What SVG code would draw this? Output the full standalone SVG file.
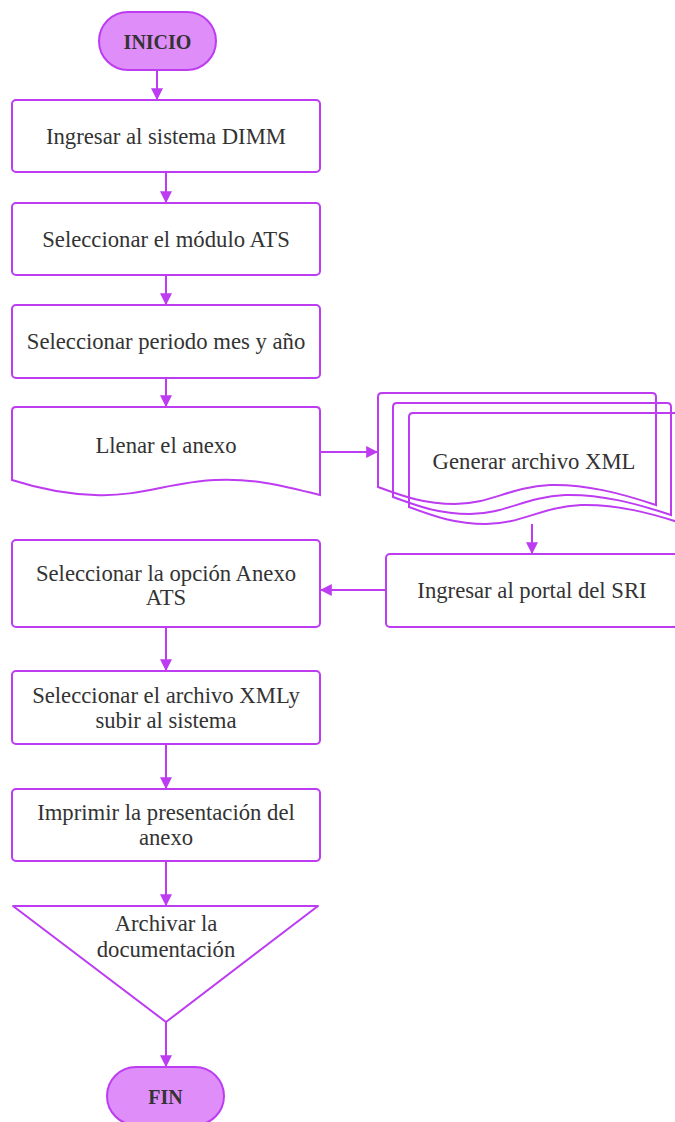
<svg xmlns="http://www.w3.org/2000/svg" width="675" height="1122" viewBox="0 0 675 1122">
  <defs>
    <style>
      .shape { fill: #ffffff; stroke: #bd3cf2; stroke-width: 2; }
      .outline { fill: none; stroke: #bd3cf2; stroke-width: 2; }
      .term { fill: #df8df9; stroke: #bd3cf2; stroke-width: 2; }
      .lbl { font-family: "Liberation Serif", "DejaVu Serif", serif; font-size: 22.7px; fill: #333333; text-anchor: middle; dominant-baseline: central; }
      .bold { font-weight: bold; font-size: 20px; }
      .edge { fill: none; stroke: #bd3cf2; stroke-width: 2; }
    </style>
    <marker id="arrow" viewBox="0 0 10 10" refX="9" refY="5" markerWidth="6" markerHeight="6" markerUnits="strokeWidth" orient="auto">
      <path d="M0,0 L10,5 L0,10 z" fill="#bd3cf2"/>
    </marker>
  </defs>

  <!-- connectors -->
  <g id="connectors">
    <path class="edge" d="M157,70 V99" marker-end="url(#arrow)"/>
    <path class="edge" d="M166,172 V202" marker-end="url(#arrow)"/>
    <path class="edge" d="M166,275 V304" marker-end="url(#arrow)"/>
    <path class="edge" d="M166,378 V406" marker-end="url(#arrow)"/>
    <path class="edge" d="M320,452 H377" marker-end="url(#arrow)"/>
    <path class="edge" d="M532,524 V553" marker-end="url(#arrow)"/>
    <path class="edge" d="M386,590 H321" marker-end="url(#arrow)"/>
    <path class="edge" d="M166,627 V670" marker-end="url(#arrow)"/>
    <path class="edge" d="M166,744 V788" marker-end="url(#arrow)"/>
    <path class="edge" d="M166,861 V905" marker-end="url(#arrow)"/>
    <path class="edge" d="M166,1022 V1066" marker-end="url(#arrow)"/>
  </g>

  <!-- start -->
  <g id="inicio">
    <rect class="term" x="99" y="12" width="117" height="58" rx="29"/>
    <text class="lbl bold" x="157.5" y="42">INICIO</text>
  </g>

  <g id="ingresar-dimm">
    <rect class="shape" x="12" y="100" width="308" height="72" rx="4"/>
    <text class="lbl" x="166" y="136">Ingresar al sistema DIMM</text>
  </g>

  <g id="seleccionar-modulo">
    <rect class="shape" x="12" y="203" width="308" height="72" rx="4"/>
    <text class="lbl" x="166" y="239">Seleccionar el módulo ATS</text>
  </g>

  <g id="seleccionar-periodo">
    <rect class="shape" x="12" y="305" width="308" height="73" rx="4"/>
    <text class="lbl" x="166" y="341">Seleccionar periodo mes y año</text>
  </g>

  <!-- document shape -->
  <g id="llenar-anexo">
    <path class="shape" d="M12,480 V411 Q12,407 16,407 H316 Q320,407 320,411 V495 C280,485 250,478 215,480 C170,482 140,497 95,495 C65,494 40,489 12,480 Z"/>
    <text class="lbl" x="166" y="445">Llenar el anexo</text>
  </g>

  <!-- multi-document shape: three stacked outlines -->
  <g id="generar-xml">
    <path class="outline" d="M378,487 V397 Q378,393 382,393 H652 Q656,393 656,397 V505 C620,493 585,484 550,485 C510,487 490,504 455,504 C425,504 405,497 378,487 Z"/>
    <path class="outline" d="M393,497 V407 Q393,403 397,403 H667 Q671,403 671,407 V515 C635,503 600,494 565,495 C525,497 505,514 470,514 C440,514 420,507 393,497 Z"/>
    <path class="outline" d="M409,507 V417 Q409,413 413,413 H683 Q687,413 687,417 V525 C651,513 616,504 581,505 C541,507 521,524 486,524 C456,524 436,517 409,507 Z"/>
    <text class="lbl" x="534" y="461">Generar archivo XML</text>
  </g>

  <g id="portal-sri">
    <rect class="shape" x="386" y="554" width="300" height="73" rx="4"/>
    <text class="lbl" x="532" y="590">Ingresar al portal del SRI</text>
  </g>

  <g id="opcion-anexo">
    <rect class="shape" x="12" y="540" width="308" height="87" rx="4"/>
    <text class="lbl" x="166" y="573">Seleccionar la opción Anexo</text>
    <text class="lbl" x="166" y="597">ATS</text>
  </g>

  <g id="subir-xml">
    <rect class="shape" x="12" y="671" width="308" height="73" rx="4"/>
    <text class="lbl" x="166" y="695">Seleccionar el archivo XMLy</text>
    <text class="lbl" x="166" y="720">subir al sistema</text>
  </g>

  <g id="imprimir">
    <rect class="shape" x="12" y="789" width="308" height="72" rx="4"/>
    <text class="lbl" x="166" y="812">Imprimir la presentación del</text>
    <text class="lbl" x="166" y="837">anexo</text>
  </g>

  <!-- offline storage (inverted triangle) -->
  <g id="archivar">
    <path class="shape" d="M13,906 H318 L166,1022 Z" stroke-linejoin="round"/>
    <text class="lbl" x="166" y="923">Archivar la</text>
    <text class="lbl" x="166" y="949">documentación</text>
  </g>

  <!-- end -->
  <g id="fin">
    <rect class="term" x="107" y="1067" width="117" height="58" rx="29"/>
    <text class="lbl bold" x="165.5" y="1097">FIN</text>
  </g>
</svg>
